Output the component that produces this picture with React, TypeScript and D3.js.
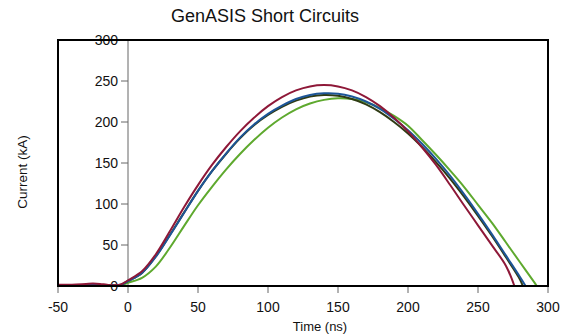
import React from "react";
import * as d3 from "d3";

const title = "GenASIS Short Circuits";
const xLabel = "Time (ns)";
const yLabel = "Current (kA)";

const xTicks = [-50, 0, 50, 100, 150, 200, 250, 300];
const yTicks = [0, 50, 100, 150, 200, 250, 300];

const times = [-50, -40, -30, -25, -20, -15, -10, -5, 0, 10, 20, 30, 40, 50, 60, 70, 80, 90, 100, 110, 120, 130, 140, 150, 160, 170, 180, 190, 200, 210, 220, 230, 240, 250, 260, 270, 280, 290];

const redValues = [1.5, 1.5, 2.5, 3, 2.5, 1.5, 1, 2, 7, 18, 39, 67, 96, 123, 147.6, 169.2, 188.6, 205.2, 219.3, 230.4, 238.5, 243.4, 245, 243.4, 238.5, 230.4, 219.3, 205.2, 188.6, 169.2, 147.6, 123.5, 98.5, 74, 49.5, 24.5, null, null];
const darkGreenValues = [1, 1, 1, 1.5, 1, 1, 1, 1.5, 6, 16, 36.5, 62.5, 89.5, 116, 140, 161, 180, 196, 208.5, 218.5, 226, 231, 233, 232, 228, 221.5, 212, 200, 186, 169.5, 151, 131, 109, 85.5, 61, 35, 8, null];
const blueValues = [1, 1, 1, 1.5, 1, 1, 1, 1.5, 6, 16, 36, 62, 89, 116, 140, 161.5, 181, 197, 210, 220, 228, 233, 235, 234.5, 231, 225, 216, 204, 190, 173.5, 155, 134.5, 112, 88, 63, 37, 11, null];
const greenValues = [1, 1, 1, 1.5, 1, 1, 1, 1, 4, 10, 24, 47, 73, 98.5, 121, 142, 161, 178, 193, 205.5, 215.5, 222.5, 227, 229, 228, 224, 217, 207.5, 195.5, 178, 160, 141, 121, 99, 77, 53, 29, 5];

const seriesNames = ["green", "darkGreen", "blue", "red"];
const seriesValues = [greenValues, darkGreenValues, blueValues, redValues];
const seriesEnds = [292, 282, 284, 276];
const seriesColors = ["#5ea92e", "#2f3b14", "#1d5597", "#8e1838"];

const W = 568;
const H = 335;

export default function App() {
  const x = d3.scaleLinear().domain([-50, 300]).range([58, 548]);
  const y = d3.scaleLinear().domain([0, 300]).range([286, 40]);
  const line = d3
    .line<[number, number]>()
    .x((d) => x(d[0]))
    .y((d) => y(d[1]))
    .curve(d3.curveCatmullRom.alpha(0.5));

  const font = "'Liberation Sans', Arial, Helvetica, sans-serif";

  return (
    <svg
      width={W}
      height={H}
      style={{ position: "absolute", left: 0, top: 0, background: "#fff" }}
      fontFamily={font}
    >
      <text x={265} y={22} fontSize={18} textAnchor="middle" fill="#111">
        {title}
      </text>

      {/* y axis at x = 0 */}
      <line x1={x(0)} x2={x(0)} y1={y(300)} y2={y(0)} stroke="#666" strokeWidth={1} />
      {yTicks.map((t) => (
        <g key={"y" + t}>
          <line x1={x(0) - 7} x2={x(0)} y1={y(t)} y2={y(t)} stroke="#666" strokeWidth={1} />
          <text x={x(0) - 10} y={y(t)} dy="0.36em" fontSize={14} textAnchor="end" fill="#111">
            {t}
          </text>
        </g>
      ))}

      {/* x axis ticks */}
      {xTicks.map((t) => (
        <g key={"x" + t}>
          <line x1={x(t)} x2={x(t)} y1={y(0)} y2={y(0) + 7} stroke="#666" strokeWidth={1} />
          <text x={x(t)} y={y(0) + 26} fontSize={14} textAnchor="middle" fill="#111">
            {t}
          </text>
        </g>
      ))}

      {/* series */}
      {seriesNames.map((name, i) => {
        const pts: [number, number][] = [];
        times.forEach((t, j) => {
          const v = seriesValues[i][j];
          if (v !== null && t < seriesEnds[i]) pts.push([t, v as number]);
        });
        pts.push([seriesEnds[i], 0]);
        return (
          <path
            key={name}
            d={line(pts) || ""}
            fill="none"
            stroke={seriesColors[i]}
            strokeWidth={2}
          />
        );
      })}

      {/* frame */}
      <rect
        x={x(-50)}
        y={y(300)}
        width={x(300) - x(-50)}
        height={y(0) - y(300)}
        fill="none"
        stroke="#000"
        strokeWidth={2}
      />

      <text x={320} y={331} fontSize={13} textAnchor="middle" fill="#111">
        {xLabel}
      </text>
      <text
        transform={`translate(27, 172) rotate(-90)`}
        fontSize={13.5}
        textAnchor="middle"
        fill="#111"
      >
        {yLabel}
      </text>
    </svg>
  );
}
